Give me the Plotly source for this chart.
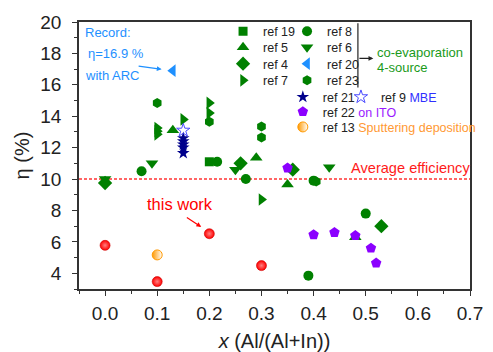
import plotly.graph_objects as go

# ---------------- data ----------------
ref19_x = [0.20]
ref19_y = [11.1]
ref5_x = [0.13, 0.29, 0.35, 0.48]
ref5_y = [13.1, 11.35, 9.65, 6.3]
ref4_x = [0.0, 0.26, 0.36, 0.53]
ref4_y = [9.75, 11.0, 10.6, 7.0]
ref7_x = [0.10, 0.10, 0.10, 0.15, 0.20, 0.20, 0.30]
ref7_y = [13.25, 13.05, 12.85, 13.8, 14.85, 14.2, 8.7]
ref8_x = [0.07, 0.215, 0.27, 0.40, 0.39, 0.50]
ref8_y = [10.5, 11.1, 10.0, 9.9, 3.85, 7.8]
ref6_x = [0.0, 0.09, 0.25, 0.43]
ref6_y = [10.0, 11.0, 10.6, 10.75]
ref20_x = [0.13]
ref20_y = [16.9]
ref23_x = [0.10, 0.20, 0.30, 0.30, 0.405]
ref23_y = [14.85, 13.65, 13.35, 12.65, 9.85]
ref21_x = [0.15, 0.15, 0.15, 0.15, 0.15]
ref21_y = [12.6, 12.4, 12.2, 12.0, 11.65]
ref9_x = [0.15]
ref9_y = [13.1]
ref22_x = [0.35, 0.40, 0.44, 0.48, 0.51, 0.52]
ref22_y = [10.7, 6.45, 6.6, 6.4, 5.6, 4.65]
ref13_x = [0.10]
ref13_y = [5.17]
thiswork_x = [0.0, 0.1, 0.2, 0.3]
thiswork_y = [5.78, 3.47, 6.52, 4.49]
average_eff = 10.0

x_ticks = [0.0, 0.1, 0.2, 0.3, 0.4, 0.5, 0.6, 0.7]
y_ticks = [4, 6, 8, 10, 12, 14, 16, 18, 20]

GREEN = "#008000"
FONT = "Arial, 'Liberation Sans', sans-serif"
W, H = 493, 352
L, R, T, B = 79, 15, 22, 63
PW, PH = W - L - R, H - T - B

fig = go.Figure()

def add(x, y, name, symbol, color, legend, size=10, line=None, showlegend=True, **mk):
    marker = dict(symbol=symbol, color=color, size=size, line=line or dict(width=0))
    marker.update(mk)
    fig.add_trace(go.Scatter(x=x, y=y, mode="markers", name=name, marker=marker,
                             legend=legend, showlegend=showlegend))

add(ref19_x, ref19_y, "ref 19", "square", GREEN, "legend", size=9)
add(ref5_x, ref5_y, "ref 5", "triangle-up", GREEN, "legend2", size=11)
add(ref4_x, ref4_y, "ref 4", "diamond", GREEN, "legend3", size=11)
add(ref7_x, ref7_y, "ref 7", "triangle-right", GREEN, "legend4", size=11)
add(ref8_x, ref8_y, "ref 8", "circle", GREEN, "legend5", size=10)
add(ref6_x, ref6_y, "ref 6", "triangle-down", GREEN, "legend6", size=11)
add(ref20_x, ref20_y, "ref 20", "triangle-left", "#1e90ff", "legend7", size=11)
add(ref23_x, ref23_y, "ref 23", "hexagon", GREEN, "legend8", size=10)
add(ref21_x, ref21_y, "ref 21", "star", "#00008b", "legend9", size=9.5)
add(ref9_x, ref9_y, "ref 9 <span style='color:#2f2fff'>MBE</span>", "star-open", "#4a4aff", "legend10", size=10,
    line=dict(width=1, color="#4a4aff"))
add(ref22_x, ref22_y, "ref 22 <span style='color:#9a1aff'>on ITO</span>", "pentagon", "#8b00ff", "legend11", size=11)
add(ref13_x, ref13_y, "ref 13 <span style='color:#ff9933'>Sputtering deposition</span>", "circle", "#ff9900",
    "legend12", size=10, line=dict(color="#ff9900", width=1),
    gradient=dict(type="horizontal", color="white"))
add(thiswork_x, thiswork_y, "this work", "circle", "#ff0000", "legend", size=10, showlegend=False,
    line=dict(width=0.6, color="#cc0000"),
    gradient=dict(type="radial", color="#ff8080"))

# average line
fig.add_shape(type="line", xref="paper", x0=0, x1=1, yref="y", y0=average_eff, y1=average_eff,
              line=dict(color="#ff3333", width=1.5, dash="3px,2px"), layer="below")
# bracket
fig.add_shape(type="line", xref="x", yref="y", x0=0.485, x1=0.485, y0=19.92, y1=15.83,
              line=dict(color="#222222", width=1.2))

ann = []
def text(x, y, t, color, size, xanchor="left"):
    ann.append(dict(x=x, y=y, xref="x", yref="y", text=t, showarrow=False,
                    font=dict(color=color, size=size, family=FONT), xanchor=xanchor, yanchor="middle"))

text(-0.043, 19.33, "Record:", "#1e90ff", 13)
text(-0.037, 18.0, "η=16.9 %", "#1e90ff", 13)
text(-0.043, 16.62, "with ARC", "#1e90ff", 13)
text(0.1437, 8.41, "this work", "#ff0000", 16.5, xanchor="center")
text(0.468, 10.69, "Average efficiency", "#ff1a1a", 14.6)
text(0.517, 18.03, "co-evaporation", "#1a9a1a", 13)
text(0.517, 17.08, "4-source", "#1a9a1a", 13)

def arrow(x, y, ax, ay, color):
    ann.append(dict(x=x, y=y, ax=ax, ay=ay, xref="x", yref="y", axref="x", ayref="y", text="",
                    showarrow=True, arrowhead=2, arrowsize=0.8, arrowwidth=1.2, arrowcolor=color))

arrow(0.1085, 16.99, 0.0615, 17.2, "#1e90ff")
arrow(0.1844, 6.95, 0.154, 7.62, "#ff0000")
arrow(0.5145, 17.68, 0.485, 17.68, "#222222")

def leg(marker_px, row_py):
    return dict(bgcolor="rgba(0,0,0,0)", borderwidth=0,
                font=dict(size=12.5, color="#222222", family=FONT),
                x=(marker_px - 18 - L) / PW, y=1 - (row_py - T) / PH,
                xanchor="left", yanchor="middle", orientation="v", tracegroupgap=0)

axis_common = dict(showline=True, linecolor="#333333", linewidth=1.5, mirror=True, ticks="outside",
                   ticklen=5, tickwidth=1.2, tickcolor="#333333", showgrid=False, zeroline=False,
                   automargin=False, tickfont=dict(size=19, color="#222222", family=FONT))

fig.update_layout(
    template="none",
    width=W, height=H,
    margin=dict(l=L, r=R, t=T, b=B),
    plot_bgcolor="white", paper_bgcolor="white",
    font=dict(family=FONT),
    xaxis=dict(range=[-0.05, 0.7], tickvals=x_ticks, ticktext=[f"{v:.1f}" for v in x_ticks],
               minor=dict(ticks="outside", ticklen=3, dtick=0.05, tick0=0.05, tickcolor="#333333"),
               ticklabelstandoff=1,
               title=dict(text="<i>x</i> (Al/(Al+In))", font=dict(size=20, color="#222222")),
               **axis_common),
    yaxis=dict(range=[3, 20], tickvals=y_ticks,
               minor=dict(ticks="outside", ticklen=3, dtick=1, tick0=3, tickcolor="#333333"),
               ticklabelstandoff=7,
               title=dict(text="η (%)", font=dict(size=20, color="#222222")),
               **axis_common),
    legend=leg(244, 31.7),
    legend2=leg(244, 47.7),
    legend3=leg(244, 64.0),
    legend4=leg(244, 80.7),
    legend5=leg(309.3, 31.7),
    legend6=leg(309.3, 47.7),
    legend7=leg(309.3, 64.0),
    legend8=leg(309.3, 80.7),
    legend9=leg(305, 97.3),
    legend10=leg(364.3, 97.3),
    legend11=leg(305, 112.0),
    legend12=leg(305, 127.3),
    annotations=ann,
    showlegend=True,
)

fig.write_html("out.html", config={"displayModeBar": False},
               post_script="document.body.style.margin='0';document.body.style.overflow='hidden';")
